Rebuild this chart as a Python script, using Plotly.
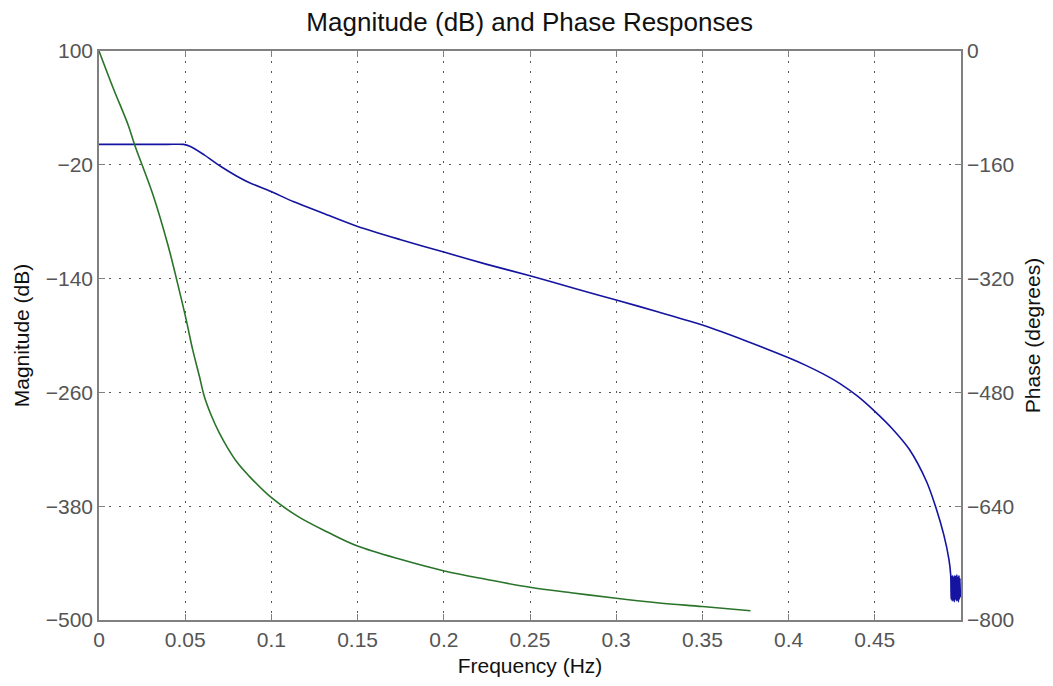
import plotly.graph_objects as go

# Magnitude response (dB) vs normalised frequency
freq_mag = [0.0, 0.010, 0.020, 0.030, 0.040, 0.049, 0.053, 0.061, 0.0707, 0.080,
            0.087, 0.0995, 0.113, 0.130, 0.150, 0.175, 0.200, 0.225, 0.250, 0.277,
            0.300, 0.325, 0.350, 0.375, 0.400, 0.410, 0.420, 0.430, 0.440, 0.450,
            0.460, 0.470, 0.480, 0.485, 0.490, 0.493, 0.4940,
            0.4943, 0.4946, 0.4949, 0.4952, 0.4955, 0.4958, 0.4961, 0.4964, 0.4967,
            0.4970, 0.4973, 0.4976, 0.4979, 0.4982, 0.4985, 0.4988, 0.4991, 0.4994,
            0.4996]
mag_db = [1.5, 1.5, 1.5, 1.5, 1.5, 1.5, -0.7, -9.5, -21.8, -32.0,
          -38.6, -48.0, -59.0, -71.0, -85.0, -99.0, -112.0, -125.0, -137.0, -151.0,
          -162.5, -175.5, -189.0, -205.5, -223.5, -231.5, -240.5, -251.0, -264.0, -280.0,
          -298.0, -320.0, -354.0, -379.0, -410.0, -436.0, -452.0,
          -478.0, -454.0, -480.0, -453.0, -479.0, -455.0, -481.0, -453.0, -478.0,
          -454.0, -480.0, -452.0, -479.0, -455.0, -481.0, -453.0, -478.0, -456.0,
          -476.0]

# Phase response (degrees)
freq_phase = [0.0, 0.0082, 0.0169, 0.0207, 0.0313, 0.0399, 0.0467, 0.0505, 0.0543,
              0.0582, 0.0610, 0.0649, 0.0697, 0.0745, 0.0802, 0.0870, 0.0995, 0.1158, 0.1331,
              0.1500, 0.1753, 0.2003, 0.2250, 0.2500, 0.2750, 0.3000, 0.3250, 0.3500, 0.3779]
phase_deg = [0.0, -52.0, -104.0, -132.0, -202.0, -272.0, -338.0, -377.0, -419.6,
             -457.0, -485.0, -511.0, -536.6, -557.6, -578.7, -597.5, -627.0, -655.0, -677.0,
             -696.0, -715.0, -731.0, -743.0, -754.0, -762.0, -769.5, -776.0, -781.0, -787.0]

x_ticks = [0, 0.05, 0.1, 0.15, 0.2, 0.25, 0.3, 0.35, 0.4, 0.45]
x_labels = ["0", "0.05", "0.1", "0.15", "0.2", "0.25", "0.3", "0.35", "0.4", "0.45"]
mag_ticks = [-500, -380, -260, -140, -20, 100]
phase_ticks = [-800, -640, -480, -320, -160, 0]

FONT = "Liberation Sans, Arial, sans-serif"
AXIS_COLOR = "#808080"
TICK_FONT = dict(family=FONT, size=21, color="#555555")
TITLE_FONT = dict(family=FONT, size=21, color="#111111")
GRID = dict(showgrid=True, gridcolor="#555555", gridwidth=1, griddash="2px,8px")

fig = go.Figure()
fig.add_trace(go.Scatter(x=freq_mag, y=mag_db, mode="lines", yaxis="y",
                         line=dict(color="#1414a0", width=1.6, shape="spline", smoothing=0.8),
                         name="Magnitude"))
fig.add_trace(go.Scatter(x=freq_phase, y=phase_deg, mode="lines", yaxis="y2",
                         line=dict(color="#2a742a", width=1.6, shape="spline", smoothing=1.0),
                         name="Phase"))

fig.update_layout(
    width=1053, height=686,
    margin=dict(l=99, r=86, t=51, b=65),
    paper_bgcolor="white", plot_bgcolor="white",
    showlegend=False,
    title=dict(text="Magnitude (dB) and Phase Responses",
               font=dict(family=FONT, size=26, color="#111111"),
               x=0.503, xref="container", xanchor="center",
               y=1 - 22 / 686, yref="container", yanchor="middle"),
    xaxis=dict(range=[0, 0.5], tickvals=x_ticks, ticktext=x_labels,
               ticks="inside", ticklen=6, tickcolor=AXIS_COLOR,
               showline=True, linecolor=AXIS_COLOR, linewidth=1.5, mirror="ticks",
               zeroline=False, tickfont=TICK_FONT,
               title=dict(text="Frequency (Hz)", font=TITLE_FONT, standoff=8),
               **GRID),
    yaxis=dict(range=[-500, 100], tickvals=mag_ticks,
               ticks="inside", ticklen=6, tickcolor=AXIS_COLOR,
               showline=True, linecolor=AXIS_COLOR, linewidth=1.5,
               zeroline=False, tickfont=TICK_FONT,
               title=dict(text="Magnitude (dB)", font=TITLE_FONT, standoff=10),
               **GRID),
    yaxis2=dict(range=[-800, 0], tickvals=phase_ticks, overlaying="y", side="right",
                ticks="inside", ticklen=6, tickcolor=AXIS_COLOR,
                showline=True, linecolor=AXIS_COLOR, linewidth=1.5,
                showgrid=False, zeroline=False, tickfont=TICK_FONT,
                title=dict(text="Phase (degrees)", font=TITLE_FONT, standoff=12)),
)

fig.write_html("out.html")
